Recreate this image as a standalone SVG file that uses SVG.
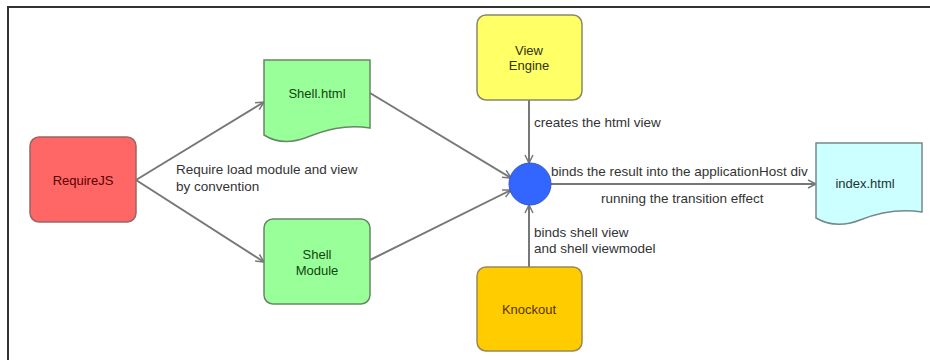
<svg xmlns="http://www.w3.org/2000/svg" width="930" height="360" viewBox="0 0 930 360">
<defs>
<marker id="arr" viewBox="0 0 10 10" refX="9" refY="5" markerWidth="10" markerHeight="10" markerUnits="userSpaceOnUse" orient="auto">
<path d="M1,1 L9,5 L1,9" fill="none" stroke="#777" stroke-width="1.5"/>
</marker>
<style>
.lbl{font-family:"Liberation Sans",Arial,sans-serif;font-size:13.5px;fill:#333}
.nt{font-family:"Liberation Sans",Arial,sans-serif;font-size:13px;text-anchor:middle}
.c{fill:none;stroke:#777;stroke-width:2;marker-end:url(#arr)}
.n{stroke-width:1.5}
</style>
</defs>
<rect x="0" y="0" width="930" height="360" fill="#fff"/>
<path d="M8,360 V7 H930" fill="none" stroke="#333" stroke-width="2"/>
<g id="connectors">
<line class="c" x1="136" y1="180" x2="264" y2="102"/>
<line class="c" x1="136" y1="180" x2="264" y2="262"/>
<line class="c" x1="370" y1="93" x2="511" y2="178"/>
<line class="c" x1="370" y1="260" x2="511" y2="190"/>
<line class="c" x1="529" y1="100" x2="529" y2="163"/>
<line class="c" x1="529" y1="267" x2="529" y2="205"/>
<line class="c" x1="551" y1="184" x2="816" y2="184"/>
<text class="lbl" x="176" y="174">Require load module and view</text>
<text class="lbl" x="176" y="191">by convention</text>
<text class="lbl" x="534" y="127">creates the html view</text>
<text class="lbl" x="551" y="176">binds the result into the applicationHost div</text>
<text class="lbl" x="601" y="203">running the transition effect</text>
<text class="lbl" x="534" y="237">binds shell view</text>
<text class="lbl" x="534" y="253">and shell viewmodel</text>
</g>
<g id="requirejs">
<rect class="n" x="30" y="137" width="106" height="85" rx="9" fill="#ff6666" stroke="#996666"/>
<text class="nt" x="83" y="185" fill="#550000">RequireJS</text>
</g>
<g id="shellhtml">
<path class="n" d="M264,60 H370 V128 C345,124 325,130 305,138 C288,144 275,142 264,135 Z" fill="#99ff99" stroke="#668866"/>
<text class="nt" x="317" y="98" fill="#114411">Shell.html</text>
</g>
<g id="shellmodule">
<rect class="n" x="264" y="219" width="106" height="85" rx="9" fill="#99ff99" stroke="#668866"/>
<text class="nt" x="317" y="259" fill="#114411">Shell</text>
<text class="nt" x="317" y="275" fill="#114411">Module</text>
</g>
<g id="viewengine">
<rect class="n" x="477" y="15" width="105" height="85" rx="9" fill="#ffff66" stroke="#888866"/>
<text class="nt" x="529" y="55" fill="#333311">View</text>
<text class="nt" x="529" y="70" fill="#333311">Engine</text>
</g>
<g id="knockout">
<rect class="n" x="477" y="267" width="105" height="84" rx="9" fill="#ffcc00" stroke="#998855"/>
<text class="nt" x="529" y="314" fill="#553300">Knockout</text>
</g>
<g id="hub">
<circle cx="530" cy="184" r="21" fill="#3366ff" stroke="#3355cc" stroke-width="1"/>
</g>
<g id="indexhtml">
<path class="n" d="M816,143 H922 V212 C895,208 875,214 860,220 C845,226 830,226 816,218 Z" fill="#ccffff" stroke="#778888"/>
<text class="nt" x="865" y="188" fill="#223333">index.html</text>
</g>
</svg>
